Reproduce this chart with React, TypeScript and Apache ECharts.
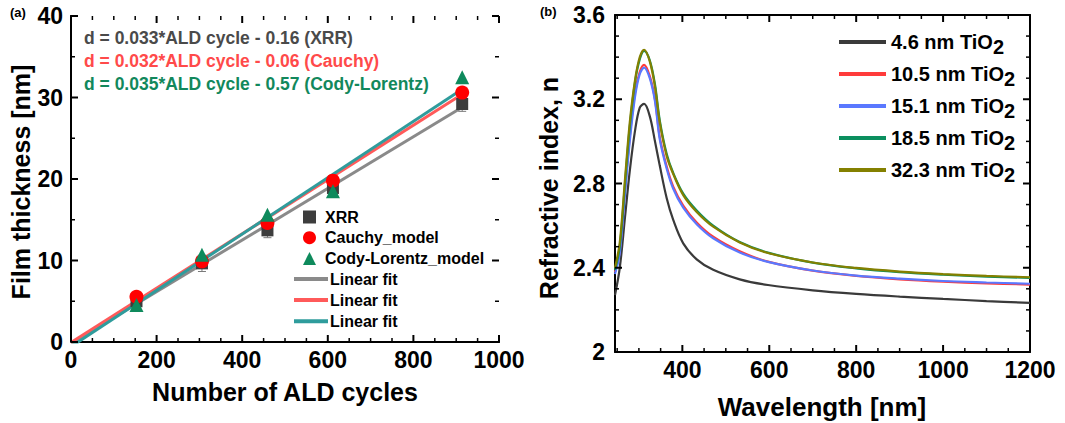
import React, { useEffect, useRef } from "react";
import * as echarts from "echarts";

// ---------- Panel (a) data ----------
const cycles = [153, 306, 459, 612, 914];
const xrr = [5.0, 9.65, 13.7, 18.9, 29.2];
const xrrErr = [1.1, 1.0, 0.9, 1.1, 0.9];
const cauchy = [5.55, 9.9, 14.6, 19.8, 30.6];
const cody = [4.55, 10.7, 15.6, 18.5, 32.5];
const fitX = [0, 914];
const fitXRR = [-0.16, 28.8];
const fitCauchy = [-0.06, 30.4];
const fitCody = [-0.57, 31.0];
const equations = [
  "d = 0.033*ALD cycle - 0.16 (XRR)",
  "d = 0.032*ALD cycle - 0.06 (Cauchy)",
  "d = 0.035*ALD cycle - 0.57 (Cody-Lorentz)",
];
const aXMajor = [0, 200, 400, 600, 800, 1000];
const aXMinor = [50, 100, 150, 250, 300, 350, 450, 500, 550, 650, 700, 750, 850, 900, 950];
const aYMajor = [0, 10, 20, 30, 40];
const aYMinor = [5, 15, 25, 35];

// ---------- Panel (b) data ----------
const wavelength = [245, 256, 268, 279, 291, 302, 312, 325, 337, 348, 364, 379, 402, 433, 471, 532, 597, 700, 800, 900, 1000, 1100, 1200];
const n46 = [2.27, 2.4, 2.64, 2.86, 3.05, 3.16, 3.178, 3.12, 3.0, 2.885, 2.73, 2.627, 2.516, 2.44, 2.39, 2.345, 2.318, 2.293, 2.276, 2.263, 2.252, 2.242, 2.233];
const n105 = [2.38, 2.48, 2.77, 3.02, 3.23, 3.33, 3.363, 3.31, 3.2, 3.02, 2.88, 2.785, 2.695, 2.615, 2.547, 2.478, 2.429, 2.386, 2.361, 2.345, 2.334, 2.326, 2.32];
const n151 = [2.37, 2.47, 2.75, 3.0, 3.21, 3.32, 3.35, 3.3, 3.19, 3.01, 2.87, 2.775, 2.685, 2.607, 2.54, 2.472, 2.428, 2.387, 2.363, 2.348, 2.337, 2.33, 2.324];
const n185 = [2.39, 2.5, 2.8, 3.07, 3.28, 3.39, 3.43, 3.385, 3.27, 3.1, 2.94, 2.85, 2.752, 2.672, 2.6, 2.522, 2.472, 2.424, 2.397, 2.379, 2.367, 2.358, 2.352];
const n323 = [2.4, 2.52, 2.82, 3.09, 3.29, 3.4, 3.435, 3.38, 3.26, 3.09, 2.93, 2.845, 2.745, 2.665, 2.595, 2.52, 2.47, 2.425, 2.399, 2.382, 2.37, 2.361, 2.355];
const thicknessLabels = ["4.6", "10.5", "15.1", "18.5", "32.3"];
const bXMajor = [400, 600, 800, 1000, 1200];
const bXMinor = [250, 300, 350, 450, 500, 550, 650, 700, 750, 850, 900, 950, 1050, 1100, 1150];
const bYMajor = [2, 2.4, 2.8, 3.2, 3.6];
const bYMinor = [2.1, 2.2, 2.3, 2.5, 2.6, 2.7, 2.9, 3.0, 3.1, 3.3, 3.4, 3.5];

const FONT = "'Liberation Sans', Arial, Helvetica, sans-serif";

const pairs = (xs: number[], ys: number[]) => xs.map((x, i) => [x, ys[i]]);

const axisLineStyle = { show: true, lineStyle: { color: "#000", width: 2 } };
const noTick = { show: false };
const labelStyle = (margin: number) => ({
  fontSize: 23,
  fontWeight: "bold" as const,
  color: "#000",
  fontFamily: FONT,
  margin,
});

// kind: 0 x-major, 1 x-minor, 2 y-major, 3 y-minor
function tickData(xMaj: number[], xMin: number[], yMaj: number[], yMin: number[], x0: number, y0: number) {
  return [
    ...xMaj.map((v) => [v, y0, 0]),
    ...xMin.map((v) => [v, y0, 1]),
    ...yMaj.map((v) => [x0, v, 2]),
    ...yMin.map((v) => [x0, v, 3]),
  ];
}

function tickSeries(xAxisIndex: number, yAxisIndex: number, xr: number[], yr: number[], data: number[][]) {
  return {
    type: "custom",
    coordinateSystem: "cartesian2d",
    xAxisIndex,
    yAxisIndex,
    silent: true,
    clip: false,
    z: 20,
    dimensions: ["x", "y", "k"],
    encode: { x: 0, y: 1 },
    data,
    renderItem: (params: any, api: any) => {
      const v0 = api.value(0);
      const v1 = api.value(1);
      const k = api.value(2);
      const major = k === 0 || k === 2;
      const len = major ? 7 : 4;
      const w = major ? 2 : 1.5;
      const style = { stroke: "#000", lineWidth: w, fill: null };
      if (k <= 1) {
        const pb = api.coord([v0, yr[0]]);
        const pt = api.coord([v0, yr[1]]);
        return {
          type: "group",
          children: [
            { type: "line", shape: { x1: pb[0], y1: pb[1], x2: pb[0], y2: pb[1] - len }, style },
            { type: "line", shape: { x1: pt[0], y1: pt[1], x2: pt[0], y2: pt[1] + len }, style },
          ],
        };
      }
      const pl = api.coord([xr[0], v1]);
      const pr = api.coord([xr[1], v1]);
      return {
        type: "group",
        children: [
          { type: "line", shape: { x1: pl[0], y1: pl[1], x2: pl[0] + len, y2: pl[1] }, style },
          { type: "line", shape: { x1: pr[0], y1: pr[1], x2: pr[0] - len, y2: pr[1] }, style },
        ],
      };
    },
  };
}

export default function App() {
  const ref = useRef<HTMLDivElement>(null);
  useEffect(() => {
    if (!ref.current) return;
    const chart = echarts.init(ref.current, null, { renderer: "svg" });

    const bColors = ["#3a3a3a", "#ff3b3b", "#5a78ff", "#0b8f5f", "#848000"];
    const bData = [n46, n105, n151, n185, n323];
    const aXR = [0, 1000];
    const aYR = [0, 40];
    const bXR = [245, 1200];
    const bYR = [2, 3.6];

    const option: any = {
      animation: false,
      backgroundColor: "#fff",
      grid: [
        { left: 71, top: 16, width: 428, height: 326 },
        { left: 615, top: 15, width: 415, height: 337 },
      ],
      xAxis: [
        {
          gridIndex: 0, type: "value", min: aXR[0], max: aXR[1], interval: 200,
          axisLine: axisLineStyle, axisTick: noTick, minorTick: noTick,
          splitLine: { show: false }, axisLabel: { ...labelStyle(6), formatter: (v: number) => String(v) },
        },
        {
          gridIndex: 0, type: "value", position: "top", min: aXR[0], max: aXR[1], interval: 200,
          axisLine: axisLineStyle, axisTick: noTick, splitLine: { show: false }, axisLabel: { show: false },
        },
        {
          gridIndex: 1, type: "value", min: bXR[0], max: bXR[1],
          axisLine: axisLineStyle, axisTick: noTick, minorTick: noTick,
          splitLine: { show: false },
          axisLabel: { ...labelStyle(6), customValues: bXMajor, formatter: (v: number) => String(v) },
        },
        {
          gridIndex: 1, type: "value", position: "top", min: bXR[0], max: bXR[1],
          axisLine: axisLineStyle, axisTick: noTick, splitLine: { show: false }, axisLabel: { show: false },
        },
      ],
      yAxis: [
        {
          gridIndex: 0, type: "value", min: aYR[0], max: aYR[1], interval: 10,
          axisLine: axisLineStyle, axisTick: noTick, minorTick: noTick,
          splitLine: { show: false }, axisLabel: labelStyle(8),
        },
        {
          gridIndex: 0, type: "value", position: "right", min: aYR[0], max: aYR[1], interval: 10,
          axisLine: axisLineStyle, axisTick: noTick, splitLine: { show: false }, axisLabel: { show: false },
        },
        {
          gridIndex: 1, type: "value", min: bYR[0], max: bYR[1], interval: 0.4,
          axisLine: axisLineStyle, axisTick: noTick, minorTick: noTick,
          splitLine: { show: false },
          axisLabel: {
            ...labelStyle(10),
            formatter: (v: number) => (Math.abs(v - 2) < 1e-6 ? "2" : (Math.round(v * 10) / 10).toFixed(1)),
          },
        },
        {
          gridIndex: 1, type: "value", position: "right", min: bYR[0], max: bYR[1], interval: 0.4,
          axisLine: axisLineStyle, axisTick: noTick, splitLine: { show: false }, axisLabel: { show: false },
        },
      ],
      legend: [
        {
          orient: "vertical",
          left: 298,
          top: 204,
          itemWidth: 13,
          itemHeight: 13,
          itemGap: 4.7,
          data: [
            { name: "XRR", icon: "rect" },
            { name: "Cauchy_model", icon: "circle" },
            { name: "Cody-Lorentz_model", icon: "triangle" },
          ],
          textStyle: { fontSize: 16, fontWeight: "bold", color: "#000", fontFamily: FONT, padding: [0, 0, 0, 4] },
        },
        {
          orient: "vertical",
          left: 289,
          top: 266,
          itemWidth: 34,
          itemHeight: 4,
          itemGap: 5.1,
          data: [
            { name: "fitXRR", icon: "rect" },
            { name: "fitCauchy", icon: "rect" },
            { name: "fitCody", icon: "rect" },
          ],
          formatter: () => "Linear fit",
          textStyle: { fontSize: 16, fontWeight: "bold", color: "#000", fontFamily: FONT, padding: [0, 0, 0, -3] },
        },
        {
          orient: "vertical",
          left: 834,
          top: 27,
          itemWidth: 47,
          itemHeight: 4,
          itemGap: 7.5,
          data: thicknessLabels.map((n) => ({ name: n, icon: "rect" })),
          formatter: (name: string) => `{t|${name} nm TiO}{s|2}`,
          textStyle: {
            fontFamily: FONT,
            rich: {
              t: { fontSize: 20, fontWeight: "bold", color: "#000", fontFamily: FONT },
              s: { fontSize: 20, fontWeight: "bold", color: "#000", fontFamily: FONT, padding: [9, 0, 0, 0] },
            },
          },
        },
      ],
      series: [
        {
          name: "fitXRR", type: "line", xAxisIndex: 0, yAxisIndex: 0,
          data: pairs(fitX, fitXRR), symbol: "none",
          lineStyle: { color: "#8a8a8a", width: 3 }, itemStyle: { color: "#8a8a8a" }, z: 2,
        },
        {
          name: "fitCauchy", type: "line", xAxisIndex: 0, yAxisIndex: 0,
          data: pairs(fitX, fitCauchy), symbol: "none",
          lineStyle: { color: "#ff5a5a", width: 3 }, itemStyle: { color: "#ff5a5a" }, z: 2,
        },
        {
          name: "fitCody", type: "line", xAxisIndex: 0, yAxisIndex: 0,
          data: pairs(fitX, fitCody), symbol: "none",
          lineStyle: { color: "#2f9c9c", width: 3 }, itemStyle: { color: "#2f9c9c" }, z: 2,
        },
        {
          type: "custom",
          xAxisIndex: 0,
          yAxisIndex: 0,
          silent: true,
          z: 2.5,
          dimensions: ["x", "y", "e"],
          encode: { x: 0, y: 1 },
          data: cycles.map((c, i) => [c, xrr[i], xrrErr[i]]),
          renderItem: (params: any, api: any) => {
            const x = api.value(0);
            const y = api.value(1);
            const e = api.value(2);
            const lo = api.coord([x, y - e]);
            const hi = api.coord([x, y + e]);
            const style = { stroke: "#7a7a7a", lineWidth: 1 };
            return {
              type: "group",
              children: [
                { type: "line", shape: { x1: lo[0], y1: lo[1], x2: hi[0], y2: hi[1] }, style },
                { type: "line", shape: { x1: lo[0] - 4, y1: lo[1], x2: lo[0] + 4, y2: lo[1] }, style },
                { type: "line", shape: { x1: hi[0] - 4, y1: hi[1], x2: hi[0] + 4, y2: hi[1] }, style },
              ],
            };
          },
        },
        {
          name: "XRR", type: "scatter", xAxisIndex: 0, yAxisIndex: 0,
          data: pairs(cycles, xrr), symbol: "rect", symbolSize: 12,
          itemStyle: { color: "#3d3d3d", opacity: 1 }, z: 3,
        },
        {
          name: "Cauchy_model", type: "scatter", xAxisIndex: 0, yAxisIndex: 0,
          data: pairs(cycles, cauchy), symbol: "circle", symbolSize: 14,
          itemStyle: { color: "#ff0000", opacity: 1 }, z: 4,
        },
        {
          name: "Cody-Lorentz_model", type: "scatter", xAxisIndex: 0, yAxisIndex: 0,
          data: pairs(cycles, cody), symbol: "triangle", symbolSize: 14,
          itemStyle: { color: "#0e8a5c", opacity: 1 }, z: 5,
        },
        ...bData.map((d, i) => ({
          name: thicknessLabels[i],
          type: "line",
          xAxisIndex: 2,
          yAxisIndex: 2,
          data: pairs(wavelength, d),
          smooth: 0.35,
          symbol: "none",
          lineStyle: { color: bColors[i], width: 2.2 },
          itemStyle: { color: bColors[i] },
          z: 2 + i,
        })),
        tickSeries(0, 0, aXR, aYR, tickData(aXMajor, aXMinor, aYMajor, aYMinor, aXR[0], aYR[0])),
        tickSeries(2, 2, bXR, bYR, tickData(bXMajor, bXMinor, bYMajor, bYMinor, bXR[0], bYR[0])),
      ],
      graphic: [
        { type: "text", left: 10, top: 6, style: { text: "(a)", fontSize: 13, fontWeight: "bold", fill: "#000", fontFamily: FONT } },
        { type: "text", left: 540, top: 5, style: { text: "(b)", fontSize: 13, fontWeight: "bold", fill: "#000", fontFamily: FONT } },
        ...equations.map((t, i) => ({
          type: "text",
          x: 84,
          y: [38, 61, 84][i],
          style: {
            text: t,
            fontSize: 17.5,
            fontWeight: "bold",
            fill: ["#4a4a4a", "#ff4a4a", "#12885c"][i],
            fontFamily: FONT,
            verticalAlign: "middle",
            align: "left",
          },
        })),
        {
          type: "text", x: 21, y: 182, rotation: Math.PI / 2,
          style: { text: "Film thickness [nm]", fontSize: 25, fontWeight: "bold", fill: "#000", fontFamily: FONT, align: "center", verticalAlign: "middle" },
        },
        {
          type: "text", x: 285, y: 392,
          style: { text: "Number of ALD cycles", fontSize: 25, fontWeight: "bold", fill: "#000", fontFamily: FONT, align: "center", verticalAlign: "middle" },
        },
        {
          type: "text", x: 549, y: 188, rotation: Math.PI / 2,
          style: { text: "Refractive index, n", fontSize: 25, fontWeight: "bold", fill: "#000", fontFamily: FONT, align: "center", verticalAlign: "middle" },
        },
        {
          type: "text", x: 822, y: 407,
          style: { text: "Wavelength [nm]", fontSize: 26, fontWeight: "bold", fill: "#000", fontFamily: FONT, align: "center", verticalAlign: "middle" },
        },
      ],
    };
    chart.setOption(option);
    return () => chart.dispose();
  }, []);

  return (
    <div
      ref={ref}
      style={{ position: "absolute", left: 0, top: 0, width: 1065, height: 423, background: "#fff" }}
    />
  );
}
